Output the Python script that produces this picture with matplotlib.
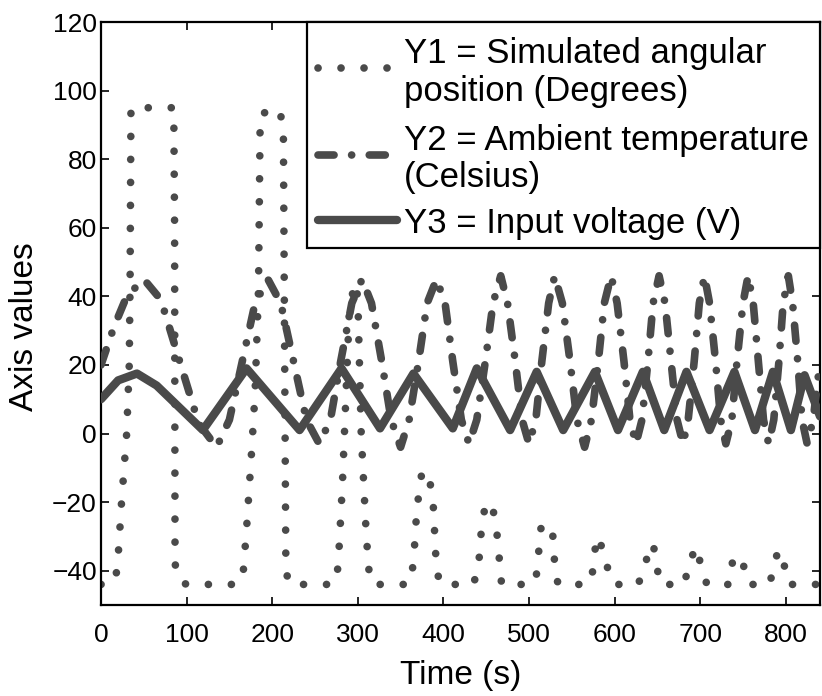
import matplotlib
matplotlib.use("Agg")
import matplotlib.pyplot as plt
from matplotlib.patches import Rectangle
from matplotlib.lines import Line2D

plt.rcParams['font.family'] = ['Liberation Sans', 'DejaVu Sans']

# ---------------- data ----------------
# Y1 = simulated angular position (degrees)
t1 = [0, 12, 19, 24, 30, 33, 34, 35, 60, 85, 86, 86.5, 92, 100,
      160, 166, 170, 176, 180, 184, 186, 205, 213, 216, 220,
      272, 277, 282, 286, 290, 296, 300, 304, 310, 314, 320,
      360, 365, 369, 375, 383, 388, 392, 397,
      435, 441, 445, 450, 458, 463, 468,
      505, 510, 513, 520, 528, 531, 535,
      568, 573, 579, 589, 593, 600,
      628, 632, 645, 649, 653,
      682, 686, 696, 702, 708,
      734, 738, 750, 752, 758,
      781, 785, 791, 799, 803, 840]
y1 = [-44, -44, -40, -20, 0, 20, 45, 95, 95, 95, 60, -38, -43, -44,
      -44, -41, -28, -5, 12, 42, 93, 95, 91, -40, -44,
      -44, -39, -15, 10, 35, 44, 40, 0, -30, -43, -44,
      -44, -38, -22, -11, -12, -20, -40, -44,
      -44, -39, -26, -20, -22, -30, -44,
      -44, -40, -28, -26, -30, -42, -44,
      -44, -43, -30, -35, -41, -44,
      -44, -40, -32, -38, -44,
      -44, -38, -33, -40, -44,
      -44, -37, -36, -42, -44,
      -44, -40, -34, -39, -44, -44]

# Y2 = ambient temperature (Celsius)
t2 = [0, 15, 30, 50, 70, 92, 114, 135,
      150, 165, 180, 195, 210, 225, 240, 255,
      268, 280, 293, 305, 316, 328, 339, 350,
      360, 371, 381, 392, 402, 411, 421, 430,
      439, 449, 458, 467, 475, 484, 492, 500,
      508, 515, 523, 530, 539, 548, 556, 565,
      573, 581, 588, 596, 603, 611, 618, 625,
      632, 639, 645, 652, 659, 666, 673, 680,
      686, 693, 699, 705, 711, 718, 724, 730,
      737, 743, 750, 756, 762, 768, 774, 780,
      786, 792, 797, 803, 808, 814, 819, 825,
      832, 840]
y2 = [20, 31, 40, 45, 39, 21, 3, -4,
      4, 21, 38, 45, 38, 21, 4, -3,
      4, 21, 38, 45, 38, 21, 4, -4,
      4, 21, 38, 45, 38, 21, 4, -3,
      4, 21, 38, 46, 38, 21, 4, -3,
      4, 21, 38, 46, 38, 21, 4, -4,
      4, 21, 38, 46, 38, 21, 4, -3,
      4, 21, 38, 46, 38, 21, 4, -3,
      4, 21, 38, 46, 38, 21, 4, -3,
      4, 21, 38, 46, 38, 21, 4, -3,
      4, 21, 38, 46, 38, 21, 4, -3,
      4, 21]

# Y3 = input voltage (V)
t3 = [0, 20, 42, 65, 119, 170, 232, 281, 326, 365, 411, 439, 478, 509,
      540, 577, 604, 633, 658, 684, 711, 740, 764, 785, 806, 822, 840]
y3 = [10, 15.5, 17.5, 14, 1, 19, 1, 19, 1.5, 17.5, 1.5, 19, 1, 18,
      1, 18, 1, 18, 1, 18, 1, 18, 1, 18, 1, 17, 5]

labels = ["Y1 = Simulated angular\nposition (Degrees)",
          "Y2 = Ambient temperature\n(Celsius)",
          "Y3 = Input voltage (V)"]

x_ticks = [0, 100, 200, 300, 400, 500, 600, 700, 800]
y_ticks = [-40, -20, 0, 20, 40, 60, 80, 100, 120]

# ---------------- styles ----------------
col = '#4a4a4a'
st1 = dict(color=col, lw=5.5, linestyle=(0, (0.01, 3.0)),
           dash_capstyle='round', solid_capstyle='round')
st2 = dict(color=col, lw=5.5, linestyle=(0, (2.1, 2.3, 0.01, 2.3)),
           dash_capstyle='round')
st3 = dict(color=col, lw=6.0, linestyle='-', solid_capstyle='round')

W, H = 822, 696
fig = plt.figure(figsize=(W / 100, H / 100), dpi=100)
L, R, T, B = 101, 820, 22, 605
ax = fig.add_axes([L / W, 1 - B / H, (R - L) / W, (B - T) / H])

ax.plot(t1, y1, zorder=2, **st1)
ax.plot(t2, y2, zorder=3, **st2)
ax.plot(t3, y3, zorder=4, **st3)

ax.set_xlim(0, 840)
ax.set_ylim(-50, 120)
ax.set_xticks(x_ticks)
ax.set_yticks(y_ticks)
ax.tick_params(direction='in', top=True, right=True, length=6, width=1.2,
               labelsize=19)
ax.tick_params(axis='x', pad=13)
ax.tick_params(axis='y', pad=3)
for s in ax.spines.values():
    s.set_linewidth(1.6)
    s.set_color('black')

ax.set_xlabel("Time (s)", fontsize=24)
ax.xaxis.set_label_coords(0.5, -0.094)
ax.set_ylabel("Axis values", fontsize=24)
ax.yaxis.set_label_coords(-0.085, 0.477)

# ---------------- manual legend (upper right) ----------------
def ax_x(px):
    return (px - L) / (R - L)

def ax_y(py):
    return (B - py) / (B - T)

box = Rectangle((ax_x(307), ax_y(248)), 1 - ax_x(307), 1 - ax_y(248),
                transform=ax.transAxes, facecolor='white', edgecolor='black',
                lw=1.6, zorder=10, clip_on=False)
ax.add_patch(box)

hx = [ax_x(318), ax_x(397)]
for st, py in [(st1, 68), (st2, 155), (st3, 220)]:
    ln = Line2D(hx, [ax_y(py), ax_y(py)], transform=ax.transAxes,
                zorder=11, clip_on=False, **st)
    ax.add_line(ln)

text_lines = [(labels[0].split("\n")[0], 63), (labels[0].split("\n")[1], 101),
              (labels[1].split("\n")[0], 150), (labels[1].split("\n")[1], 187),
              (labels[2], 233)]
for s, py in text_lines:
    ax.text(ax_x(404), ax_y(py), s, transform=ax.transAxes, fontsize=25,
            va='baseline', ha='left', zorder=12)

fig.savefig("out.png", dpi=100)
